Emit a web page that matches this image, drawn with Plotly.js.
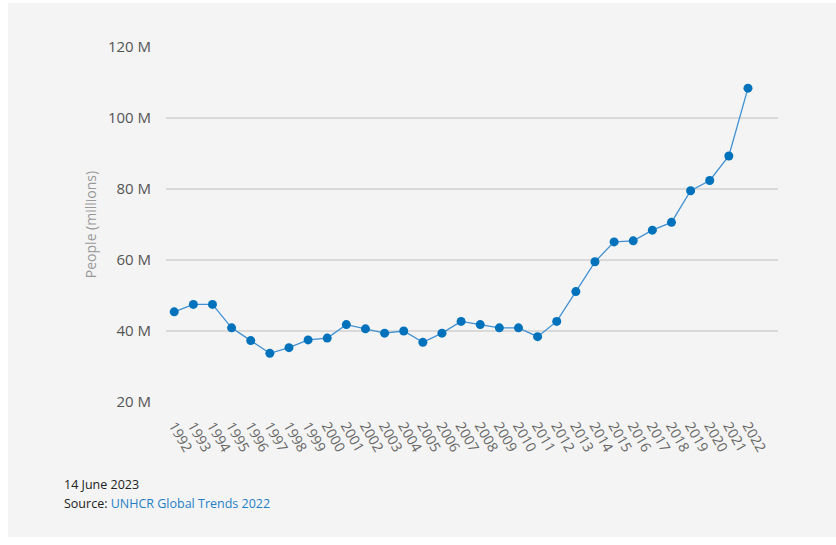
<!DOCTYPE html>
<html>
<head>
<meta charset="utf-8">
<script src="https://cdn.plot.ly/plotly-3.0.1.min.js"></script>
<style>
html,body{margin:0;padding:0;background:#ffffff;}
#chart{position:absolute;left:8px;top:3px;width:828px;height:534px;}
</style>
</head>
<body>
<div id="chart"></div>
<script>
const years = [1992,1993,1994,1995,1996,1997,1998,1999,2000,2001,2002,2003,2004,2005,2006,2007,2008,2009,2010,2011,2012,2013,2014,2015,2016,2017,2018,2019,2020,2021,2022];
const people = [45.4,47.5,47.5,40.9,37.3,33.7,35.3,37.5,38.0,41.8,40.6,39.4,40.0,36.8,39.4,42.7,41.8,40.9,40.9,38.4,42.7,51.1,59.5,65.1,65.4,68.4,70.6,79.5,82.4,89.3,108.4];
const yTicks = [20,40,60,80,100,120];
const yTickText = ["20 M","40 M","60 M","80 M","100 M","120 M"];
const dateText = "14 June 2023";
const sourceLabel = "Source: ";
const sourceName = "UNHCR Global Trends 2022";

const font = "'Open Sans', 'Noto Sans', sans-serif";

const trace = {
  x: years, y: people, type: 'scatter', mode: 'lines+markers',
  line: {color: '#4090d2', width: 1.3},
  marker: {color: '#0072bc', size: 9},
  hoverinfo: 'x+y'
};

const layout = {
  paper_bgcolor: '#f4f4f4',
  plot_bgcolor: '#f4f4f4',
  margin: {l: 158, r: 58, t: 44, b: 135},
  showlegend: false,
  font: {family: font, color: '#666666'},
  xaxis: {
    type: 'linear',
    range: [1991.57, 2023.57],
    tickvals: years,
    ticktext: years.map(String),
    tickangle: 60,
    tickfont: {size: 14, color: '#666666'},
    ticklabelstandoff: 12,
    showgrid: false, zeroline: false, showline: false, ticks: ''
  },
  yaxis: {
    range: [20, 120],
    tickvals: yTicks,
    ticktext: yTickText,
    tickfont: {size: 15, color: '#555555'},
    gridcolor: '#d9d9d9', gridwidth: 1.5,
    zeroline: false, showline: false, ticks: '',
    ticklabelstandoff: 14,
    title: {text: 'People (millions)', font: {size: 14, color: '#999999'}, standoff: 7}
  },
  annotations: [
    {xref: 'paper', yref: 'paper', x: -0.170, y: -0.231, xanchor: 'left', yanchor: 'middle',
     text: dateText, showarrow: false, font: {size: 12.5, color: '#222222', family: font}},
    {xref: 'paper', yref: 'paper', x: -0.170, y: -0.285, xanchor: 'left', yanchor: 'middle',
     text: sourceLabel + "<span style='color:#1f7fc6'>" + sourceName + "</span>",
     showarrow: false, font: {size: 12.5, color: '#222222', family: font}}
  ]
};

Plotly.newPlot('chart', [trace], layout, {displayModeBar: false, responsive: false});
</script>
</body>
</html>
